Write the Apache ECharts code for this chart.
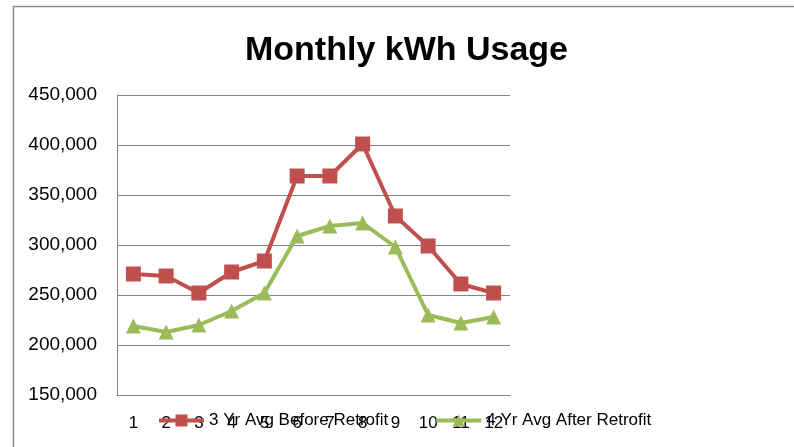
<!DOCTYPE html>
<html><head><meta charset="utf-8">
<script src="https://cdn.jsdelivr.net/npm/echarts@6/dist/echarts.min.js"></script>
<style>html,body{margin:0;padding:0;background:#fff}#c{width:794px;height:447px}</style>
</head><body><div id="c"></div>
<script>
const months = ['1','2','3','4','5','6','7','8','9','10','11','12'];
const beforeRetrofit = [271000, 269000, 252000, 273000, 284000, 369000, 369000, 401000, 329000, 299000, 261000, 252000];
const afterRetrofit = [219000, 213000, 220000, 234000, 252000, 309000, 319000, 322000, 298000, 230000, 222000, 228000];
const seriesNames = ['3 Yr Avg Before Retrofit', '4 Yr Avg After Retrofit'];
const titleText = 'Monthly kWh Usage';

const FONT = '"Liberation Sans", "DejaVu Sans", sans-serif';
const chart = echarts.init(document.getElementById('c'));
chart.setOption({
  animation: false,
  backgroundColor: '#fff',
  graphic: [{type:'rect', shape:{x:13.5, y:6.5, width:800, height:460}, style:{fill:'none', stroke:'#8c8c8c', lineWidth:1.5}, silent:true}],
  title: {text: titleText, left: 240, top: 29, textStyle:{fontFamily: FONT, fontSize: 34, fontWeight:'bold', color:'#000'}},
  legend: {
    left: 152, top: 407, itemWidth: 45, itemHeight: 15, itemGap: 46,
    lineStyle: {width: 4},
    textStyle: {fontFamily: FONT, fontSize: 17, color:'#000'},
    data: seriesNames
  },
  grid: {left: 117, right: 284, top: 95, bottom: 52},
  xAxis: {
    type: 'category', data: months, boundaryGap: true,
    axisLine: {lineStyle:{color:'#868686'}}, axisTick:{show:false},
    axisLabel: {fontFamily: FONT, fontSize: 17, color:'#000', margin: 20}
  },
  yAxis: {
    type: 'value', min: 150000, max: 450000, interval: 50000,
    axisLine: {show:true, lineStyle:{color:'#868686'}}, axisTick:{show:false},
    splitLine: {lineStyle:{color:'#868686', width:1}},
    axisLabel: {fontFamily: FONT, fontSize: 19, color:'#000', margin: 20,
      formatter: v => v.toLocaleString('en-US')}
  },
  series: [
    {name: seriesNames[0], type:'line', data: beforeRetrofit, symbol:'rect', symbolSize: 15,
     lineStyle:{color:'#C0504D', width:4}, itemStyle:{color:'#C0504D'}},
    {name: seriesNames[1], type:'line', data: afterRetrofit, symbol:'triangle', symbolSize: 15,
     lineStyle:{color:'#9BBB59', width:4}, itemStyle:{color:'#9BBB59'}}
  ]
});
</script></body></html>
